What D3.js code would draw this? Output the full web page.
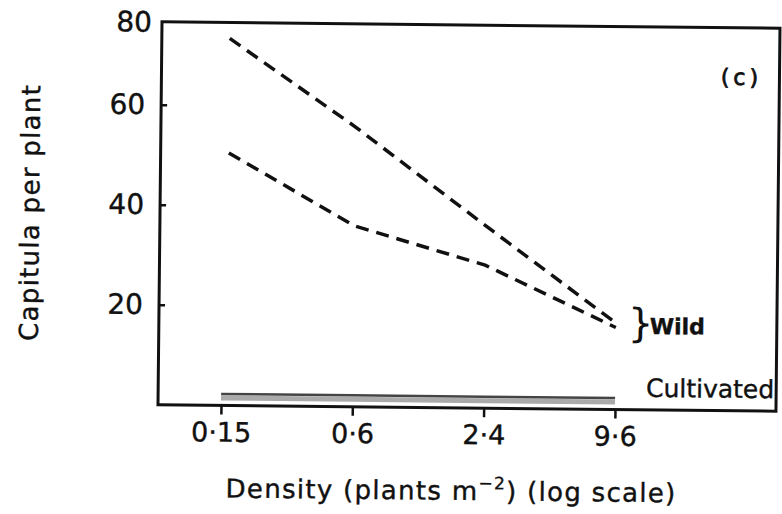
<!DOCTYPE html>
<html>
<head>
<meta charset="utf-8">
<script src="https://cdn.jsdelivr.net/npm/d3@7"></script>
<style>
  body { margin: 0; background: #fff; }
  text { font-family: "DejaVu Sans", sans-serif; fill: #111; stroke: #111; stroke-width: 0.4px; }
</style>
</head>
<body>
<div id="chart"></div>
<script>
var densities = [0.15, 0.6, 2.4, 9.6]
var xTickLabels = ["0·15", "0·6", "2·4", "9·6"]
var yTicks = [20, 40, 60]
var yTopLabel = "80"
var wildUpper = [74.1, 56, 36.5, 17.3]
var wildLower = [51.1, 36.2, 28.6, 16.4]
var cultivatedA = [2.3, 2.3, 2.3, 2.3]
var cultivatedB = [1.5, 1.5, 1.5, 1.5]

var W = 782, H = 514
var frameL = 160, frameR = 778, frameT = 25, frameB = 408

var svg = d3.select("#chart").append("svg")
    .attr("width", W)
    .attr("height", H)

// the scan is tilted a little
var g = svg.append("g")
    .attr("transform", "rotate(0.6,470,215)")

var x = d3.scaleLog()
    .domain([0.15, 9.6])
    .range([223, 617])

var y = d3.scaleLinear()
    .domain([0, 76.6])
    .range([frameB, frameT])

// frame
g.append("path")
    .attr("d", "M" + frameL + "," + frameB + "V" + frameT + "H" + frameR + "V" + frameB + "Z")
    .attr("fill", "none")
    .attr("stroke", "#111")
    .attr("stroke-width", 3)

var xAxis = g.append("g")
    .attr("transform", "translate(0," + frameB + ")")
    .call(d3.axisBottom(x).tickValues(densities).tickFormat((d, i) => xTickLabels[i]).tickSize(9).tickPadding(8))
xAxis.select(".domain").remove()
xAxis.selectAll("line").attr("stroke", "#111").attr("stroke-width", 2.5)
xAxis.selectAll("text")
    .attr("fill", "#111")
    .style("font-size", "27px")

var yAxis = g.append("g")
    .attr("transform", "translate(" + frameL + ",0)")
    .call(d3.axisLeft(y).tickValues(yTicks).tickSize(-6).tickPadding(16))
yAxis.select(".domain").remove()
yAxis.selectAll("line").attr("stroke", "#111").attr("stroke-width", 2.5)
yAxis.selectAll("text")
    .attr("fill", "#111")
    .style("font-size", "28px")

g.append("text")
    .attr("x", frameL - 10)
    .attr("y", y.range()[1])
    .attr("dy", "0.36em")
    .attr("text-anchor", "end")
    .style("font-size", "28px")
    .text(yTopLabel)

var line = d3.line()
    .x((d, i) => x(densities[i]))
    .y(d => y(d))

g.append("path")
    .datum(cultivatedB)
    .attr("d", line)
    .attr("fill", "none")
    .attr("stroke", "#aaa")
    .attr("stroke-width", 5)
g.append("path")
    .datum(cultivatedA)
    .attr("d", line)
    .attr("fill", "none")
    .attr("stroke", "#444")
    .attr("stroke-width", 2.5)

;[wildUpper, wildLower].forEach(s => {
    g.append("path")
        .datum(s)
        .attr("d", line)
        .attr("fill", "none")
        .attr("stroke", "#111")
        .attr("stroke-width", 3.5)
        .attr("stroke-dasharray", "13,8")
        .attr("stroke-dashoffset", -6)
})

g.append("text")
    .attr("x", 740)
    .attr("y", 82)
    .attr("text-anchor", "middle")
    .style("font-size", "22px")
    .style("stroke-width", "0.8px")
    .style("letter-spacing", "4px")
    .text("(c)")

g.append("text")
    .attr("x", 629)
    .attr("y", 335)
    .style("font-size", "40px")
    .style("stroke-width", "0")
    .text("}")
g.append("text")
    .attr("x", 651)
    .attr("y", 332)
    .style("font-size", "22px")
    .style("font-weight", "bold")
    .text("Wild")

g.append("text")
    .attr("x", frameR - 2)
    .attr("y", 395)
    .attr("text-anchor", "end")
    .style("font-size", "25px")
    .text("Cultivated")

// axis titles
g.append("text")
    .attr("transform", "translate(39,217) rotate(-90)")
    .attr("text-anchor", "middle")
    .style("font-size", "26px")
    .style("letter-spacing", "1.3px")
    .text("Capitula per plant")

var xt = g.append("text")
    .attr("x", 454)
    .attr("y", 500)
    .attr("text-anchor", "middle")
    .style("font-size", "26px")
    .style("letter-spacing", "1.3px")
xt.append("tspan").text("Density (plants m")
xt.append("tspan").attr("dy", -11).style("font-size", "17px").text("−2")
xt.append("tspan").attr("dy", 11).text(") (log scale)")
</script>
</body>
</html>
